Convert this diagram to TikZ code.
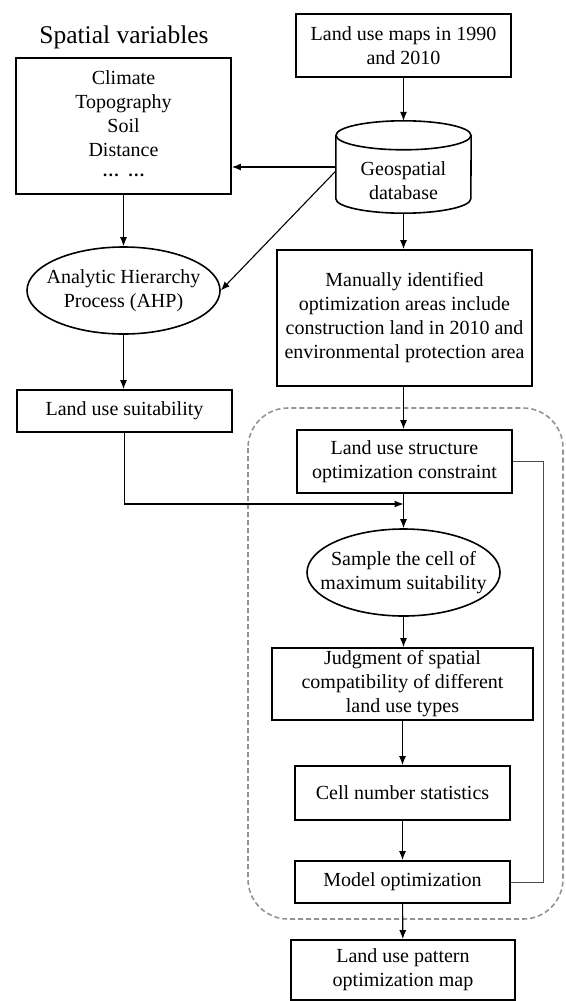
\documentclass[tikz,border=0pt]{standalone}
\usepackage{fontspec}
\setmainfont{Liberation Serif}
\usetikzlibrary{arrows.meta,shapes.geometric}

\begin{document}
\begin{tikzpicture}[x=1pt,y=-1pt,>={Latex[length=9pt,width=7pt]},
  font=\fontsize{20}{24}\selectfont,
  box/.style={draw,line width=1.8pt,align=center,inner sep=0pt,minimum width=215pt},
  oval/.style={draw,ellipse,line width=1.6pt,align=center,inner xsep=-16pt,inner ysep=0pt,
    minimum width=193pt,minimum height=87pt},
  link/.style={->,line width=1.1pt},
  fb/.style={line width=.9pt,draw=gray!60!black},
  zone/.style={draw=gray!85,line width=1.6pt,dash pattern=on 5pt off 3pt,rounded corners=40pt}]
  \useasboundingbox (0,0) rectangle (565,1001);
  \draw[zone] (248,408) rectangle (563,919);
  % left column
  \node[font=\fontsize{25.5}{30}\selectfont] (title) at (124,37) {Spatial variables};
  \node[box,minimum height=136pt] (vars) at (123.5,126)
    {Climate\\Topography\\Soil\\Distance\\\raisebox{4pt}{\fontsize{17}{17}\selectfont\bfseries …\enspace…}};
  \node[oval] (ahp) at (123.5,290.5) {Analytic Hierarchy\\Process (AHP)};
  \node[box,minimum height=42pt] (suit) at (124.5,411) {Land use suitability};
  % right column
  \node[box,minimum height=63pt] (maps) at (403.5,45.5) {Land use maps in 1990\\and 2010};
  \node[minimum width=135pt,minimum height=92pt,inner sep=0pt] (geo) at (403.5,167) {};
  \draw[line width=1.6pt] ([yshift=-14.5pt]geo.north) ellipse [x radius=67.5pt,y radius=14.5pt];
  \draw[line width=1.6pt] ([yshift=-14.5pt]geo.north west) -- ([yshift=14.5pt]geo.south west)
    arc[start angle=180,end angle=360,x radius=67.5pt,y radius=14.5pt]
    -- ([yshift=-14.5pt]geo.north east);
  \node[align=center] at (403.5,180.5) {Geospatial\\database};
  \node[box,minimum width=255pt,minimum height=136pt] (manual) at (404.5,318)
    {Manually identified\\optimization areas include\\construction land in 2010 and\\environmental protection area};
  \node[box,minimum height=63pt] (struct) at (404.5,461.5) {Land use structure\\optimization constraint};
  \node[oval] (sample) at (403.5,572.5) {Sample the cell of\\maximum suitability};
  \node[box,minimum width=261pt,minimum height=72pt] (judge) at (402.5,684)
    {Judgment of spatial\\compatibility of different\\land use types};
  \node[box,minimum height=54pt] (cells) at (402.5,793) {Cell number statistics};
  \node[box,minimum height=42pt] (model) at (402.5,882) {Model optimization};
  \node[box,minimum width=224pt,minimum height=60pt] (final) at (403,970) {Land use pattern\\optimization map};
  \coordinate (merge) at (403.5,504);
  % connectors
  \draw[link] (maps.south -| geo.north) -- (geo.north);
  \draw[link] (geo.west) -- (vars.east |- geo.west);
  \draw[link] ([yshift=-4pt]geo.west) -- (ahp.east);
  \draw[link] (vars.south -| ahp.north) -- (ahp.north);
  \draw[link] (ahp) -- (ahp.south |- suit.north);
  \draw[link] (geo.south) -- (geo.south |- manual.north);
  \draw[link] (geo.south |- manual.south) -- (geo.south |- struct.north);
  \draw[link] (geo.south |- struct.south) -- (sample);
  \draw[link] (suit.south) |- (merge);
  \draw[link] (sample) -- (sample.south |- judge.north);
  \draw[link] (judge) -- (cells);
  \draw[link] (cells) -- (model);
  \draw[link] (model) -- (final);
  \draw[fb] (model.east) -- ++(33,0) |- (struct.east);
\end{tikzpicture}
\end{document}
